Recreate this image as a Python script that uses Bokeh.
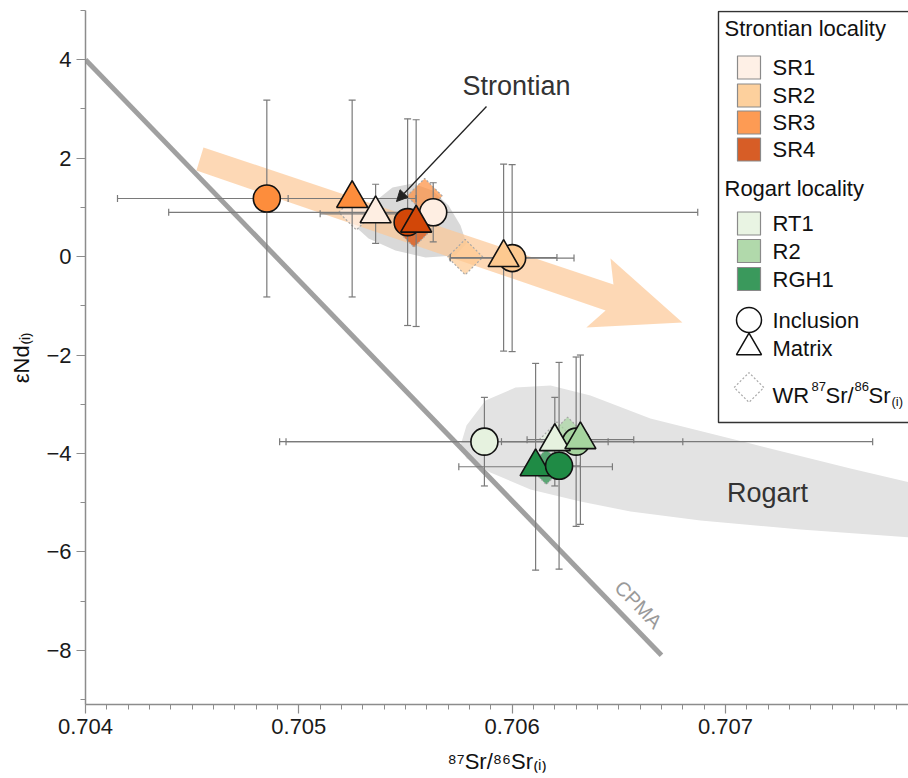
import numpy as np
from bokeh.plotting import figure
from bokeh.models import (Range1d, FixedTicker, CustomJSTickFormatter, PrintfTickFormatter,
                          Label, Arrow, NormalHead)
from bokeh.core.properties import value
from bokeh.embed import file_html
from bokeh.resources import INLINE

FONT = "Liberation Sans"

# ---------------- axes ----------------
x_lim = (0.704, 0.707858)
y_lim = (-9.1, 5.0)
x_major = [0.704, 0.705, 0.706, 0.707]
x_minor = [round(0.704 + 0.0001 * i, 4) for i in range(39)]
y_major = [-8, -6, -4, -2, 0, 2, 4]
y_minor = [-9, -7, -5, -3, -1, 1, 3, 5]
x_title = "\u2078\u2077Sr/\u2078\u2076Sr\u208d\u1d62\u208e"
y_title = "\u03b5Nd\u208d\u1d62\u208e"

# ---------------- Strontian locality ----------------
sr_names = ["SR1", "SR2", "SR3", "SR4"]
sr_colors = ["#feeee2", "#fdc990", "#fd8d3c", "#d24708"]
sr_inc_x = [0.70563, 0.70600, 0.70485, 0.70551]
sr_inc_y = [0.90, -0.03, 1.18, 0.70]
sr_inc_xerr = [0.00124, 0.00029, 0.00070, 0.00004]
sr_inc_yerr = [0.6, 1.9, 2.0, 2.1]
sr_mat_x = [0.70536, 0.70596, 0.70525, 0.70555]
sr_mat_y = [0.87, -0.02, 1.18, 0.68]
sr_mat_xerr = [0.00026, 0.00025, 0.00030, 0.00004]
sr_mat_yerr = [0.6, 1.9, 2.0, 2.1]
sr_wr_x = [0.70527, 0.70578, 0.70559, 0.70554]
sr_wr_y = [0.90, -0.01, 1.23, 0.55]

# ---------------- Rogart locality ----------------
rg_names = ["RT1", "R2", "RGH1"]
rg_colors = ["#e6f2df", "#a6d49f", "#1f8b45"]
rg_inc_x = [0.70587, 0.70630, 0.70622]
rg_inc_y = [-3.76, -3.76, -4.25]
rg_inc_xerr = [0.00093, 0.00139, 0.00010]
rg_inc_yerr = [0.9, 1.72, 2.1]
rg_mat_x = [0.70620, 0.70632, 0.70611]
rg_mat_y = [-3.76, -3.72, -4.27]
rg_mat_xerr = [0.00025, 0.00025, 0.00036]
rg_mat_yerr = [0.9, 1.72, 2.1]
rg_wr_x = [0.70621, 0.70626, 0.70616]
rg_wr_y = [-3.72, -3.62, -4.27]

# ---------------- fields, trend arrow, CPMA ----------------
stron_field_x = [0.705275, 0.705345, 0.705439, 0.705533, 0.705627, 0.705702, 0.705758,
                 0.705786, 0.705734, 0.705594, 0.705453, 0.705327]
stron_field_y = [0.571, 1.079, 1.404, 1.485, 1.343, 1.038, 0.632, 0.266, 0.022, -0.018,
                 0.124, 0.368]
rogart_field_x = [0.705758, 0.705786, 0.705875, 0.706016, 0.706180, 0.706367, 0.706648,
                  0.707117, 0.707586, 0.707867, 0.707867, 0.707352, 0.706883, 0.706555,
                  0.706320, 0.706086, 0.705898, 0.705786]
rogart_field_y = [-3.838, -3.432, -2.924, -2.660, -2.619, -2.822, -3.289, -3.797, -4.305,
                  -4.590, -5.707, -5.545, -5.362, -5.179, -4.976, -4.732, -4.386, -4.102]
trend_x = [0.704553, 0.706475, 0.706461, 0.706798, 0.706348, 0.706438, 0.704520]
trend_y = [2.217, -0.567, -0.039, -1.339, -1.441, -1.095, 1.749]
cpma_x = [0.7040, 0.7067]
cpma_y = [4.0, -8.1]

# ---------------- frame geometry (pixels) ----------------
FL, FR, FT, FB = 85, 908, 10, 704


def px2x(px):
    return x_lim[0] + (px - FL) * (x_lim[1] - x_lim[0]) / (FR - FL)


def py2y(py):
    return y_lim[1] - (py - FT) * (y_lim[1] - y_lim[0]) / (FB - FT)


p = figure(width=908, height=778, x_range=Range1d(*x_lim), y_range=Range1d(*y_lim),
           output_backend="svg", toolbar_location=None,
           min_border_left=FL, min_border_right=0, min_border_top=FT,
           min_border_bottom=778 - FB)
p.outline_line_color = None
p.grid.visible = False
p.background_fill_color = "white"
p.border_fill_color = "white"

AX = "#8c8c8c"
for ax in (p.xaxis[0], p.yaxis[0]):
    ax.axis_line_color = AX
    ax.axis_line_width = 1.5
    ax.major_tick_line_color = AX
    ax.minor_tick_line_color = AX
    ax.major_tick_line_width = 1.2
    ax.minor_tick_line_width = 1.0
    ax.major_tick_in = 0
    ax.minor_tick_in = 0
    ax.major_tick_out = 9
    ax.minor_tick_out = 5
    ax.major_label_text_font = FONT
    ax.major_label_text_font_size = "22px"
    ax.major_label_text_color = "#1a1a1a"
    ax.axis_label_text_font = FONT
    ax.axis_label_text_font_size = "22px"
    ax.axis_label_text_font_style = "normal"
    ax.axis_label_text_color = "#111111"
p.xaxis.ticker = FixedTicker(ticks=x_major, minor_ticks=x_minor)
p.yaxis.ticker = FixedTicker(ticks=y_major, minor_ticks=y_minor)
p.xaxis.formatter = PrintfTickFormatter(format="%.3f")
p.yaxis.formatter = CustomJSTickFormatter(
    code="return tick < 0 ? '\\u2212' + Math.abs(tick) : String(tick);")
p.xaxis.major_label_standoff = 5
p.yaxis.major_label_standoff = 5
p.xaxis.axis_label = x_title
p.yaxis.axis_label = y_title
p.xaxis.axis_label_standoff = 12
p.yaxis.axis_label_standoff = 9

# fields and trend arrow
p.patch(rogart_field_x, rogart_field_y, fill_color="#e3e3e3", line_color=None)
p.patch(stron_field_x, stron_field_y, fill_color="#d9d9d9", line_color=None)
p.patch(trend_x, trend_y, fill_color="#fcc796", fill_alpha=0.7, line_color=None)

# CPMA line
p.line(cpma_x, cpma_y, line_color="#a0a0a0", line_width=5)
p.add_layout(Label(x=px2x(638), y=py2y(604), text="CPMA", angle=-0.80,
                   text_align="center", text_baseline="middle", text_color="#9a9a9a",
                   text_font=FONT, text_font_size="20px"))

# whole-rock diamonds
p.scatter(sr_wr_x, sr_wr_y, marker="square", angle=np.pi / 4, size=25,
          fill_color=sr_colors, fill_alpha=0.7, line_color="#a8a8a8", line_dash="2 2",
          line_width=1.2)
p.scatter(rg_wr_x, rg_wr_y, marker="square", angle=np.pi / 4, size=25,
          fill_color=rg_colors, fill_alpha=0.7, line_color="#a8a8a8", line_dash="2 2",
          line_width=1.2)

EB = "#7a7a7a"


def errorbars(xs, ys, xe, ye):
    xs, ys, xe, ye = map(np.asarray, (xs, ys, xe, ye))
    p.segment(xs, ys - ye, xs, ys + ye, line_color=EB, line_width=1.2)
    p.segment(xs - xe, ys, xs + xe, ys, line_color=EB, line_width=1.2)
    p.scatter(np.r_[xs, xs], np.r_[ys - ye, ys + ye], marker="dash", size=7,
              line_color=EB, line_width=1.2)
    p.scatter(np.r_[xs - xe, xs + xe], np.r_[ys, ys], marker="dash", size=7,
              angle=np.pi / 2, line_color=EB, line_width=1.2)


errorbars(sr_inc_x, sr_inc_y, sr_inc_xerr, sr_inc_yerr)
errorbars(sr_mat_x, sr_mat_y, sr_mat_xerr, sr_mat_yerr)
errorbars(rg_inc_x, rg_inc_y, rg_inc_xerr, rg_inc_yerr)
errorbars(rg_mat_x, rg_mat_y, rg_mat_xerr, rg_mat_yerr)

MK = dict(line_color="#111111", line_width=1.6)
CIRC, TRI = 27, 31
# Strontian: inclusions then matrix
p.scatter(sr_inc_x, sr_inc_y, marker="circle", size=CIRC, fill_color=sr_colors, **MK)
p.scatter(sr_mat_x, sr_mat_y, marker="triangle", size=TRI, fill_color=sr_colors, **MK)
# Rogart: RGH1 matrix, RGH1 inclusion, other inclusions, other matrix
p.scatter(rg_mat_x[2:], rg_mat_y[2:], marker="triangle", size=TRI,
          fill_color=rg_colors[2:], **MK)
p.scatter(rg_inc_x[2:], rg_inc_y[2:], marker="circle", size=CIRC,
          fill_color=rg_colors[2:], **MK)
p.scatter(rg_inc_x[:2], rg_inc_y[:2], marker="circle", size=CIRC,
          fill_color=rg_colors[:2], **MK)
p.scatter(rg_mat_x[:2], rg_mat_y[:2], marker="triangle", size=TRI,
          fill_color=rg_colors[:2], **MK)

# locality labels
p.add_layout(Arrow(end=NormalHead(size=11, fill_color="#222222", line_color="#222222"),
                   x_start=px2x(486), y_start=py2y(106), x_end=px2x(396), y_end=py2y(201),
                   line_color="#222222", line_width=1.3))
p.add_layout(Label(x=px2x(516), y=py2y(85), text="Strontian", text_align="center",
                   text_baseline="middle", text_color="#333333", text_font=FONT,
                   text_font_size="27px"))
p.add_layout(Label(x=px2x(767), y=py2y(492), text="Rogart", text_align="center",
                   text_baseline="middle", text_color="#333333", text_font=FONT,
                   text_font_size="27px"))

# ---------------- legend (drawn by hand) ----------------
p.quad(left=px2x(718), right=px2x(960), top=py2y(11), bottom=py2y(422),
       fill_color="white", line_color="#333333", line_width=1.4)
LX_SW, LX_TX, LX_TI = 748.5, 772, 724
LT = dict(text_font=value(FONT), text_font_size="22px", text_color="#111111",
          text_baseline="middle")
p.text([px2x(LX_TI)] * 2, [py2y(28), py2y(188)],
       text=["Strontian locality", "Rogart locality"], **LT)
sr_sw_y = [py2y(v) for v in (67, 95, 122, 149)]
rg_sw_y = [py2y(v) for v in (223, 250.5, 278.5)]
p.scatter([px2x(LX_SW)] * 4, sr_sw_y, marker="square", size=23, fill_color=sr_colors,
          fill_alpha=0.88, line_color="#8a8a8a", line_width=1.2, line_join="round")
p.scatter([px2x(LX_SW)] * 3, rg_sw_y, marker="square", size=23, fill_color=rg_colors,
          fill_alpha=0.88, line_color="#8a8a8a", line_width=1.2, line_join="round")
p.text([px2x(LX_TX)] * 4, sr_sw_y, text=sr_names, **LT)
p.text([px2x(LX_TX)] * 3, rg_sw_y, text=rg_names, **LT)
p.scatter([px2x(LX_SW)], [py2y(319.5)], marker="circle", size=25, fill_color="white",
          line_color="#111111", line_width=1.5)
p.scatter([px2x(LX_SW)], [py2y(347)], marker="triangle", size=25, fill_color="white",
          line_color="#111111", line_width=1.5)
p.scatter([px2x(LX_SW)], [py2y(387)], marker="square", angle=np.pi / 4, size=21,
          fill_color="white", line_color="#a8a8a8", line_dash="2 2", line_width=1.2)
p.text([px2x(LX_TX)] * 2, [py2y(320), py2y(348)], text=["Inclusion", "Matrix"], **LT)
LTb = dict(text_font=value(FONT), text_color="#111111", text_baseline="alphabetic")
p.text([px2x(772)], [py2y(395)], text=["WR"], text_font_size="22px", **LTb)
p.text([px2x(811)], [py2y(386)], text=["87"], text_font_size="13px", **LTb)
p.text([px2x(825)], [py2y(395)], text=["Sr/"], text_font_size="22px", **LTb)
p.text([px2x(854)], [py2y(386)], text=["86"], text_font_size="13px", **LTb)
p.text([px2x(868)], [py2y(395)], text=["Sr"], text_font_size="22px", **LTb)
p.text([px2x(891)], [py2y(401)], text=["(i)"], text_font_size="13px", **LTb)

open("out.html", "w").write(file_html(p, INLINE))
